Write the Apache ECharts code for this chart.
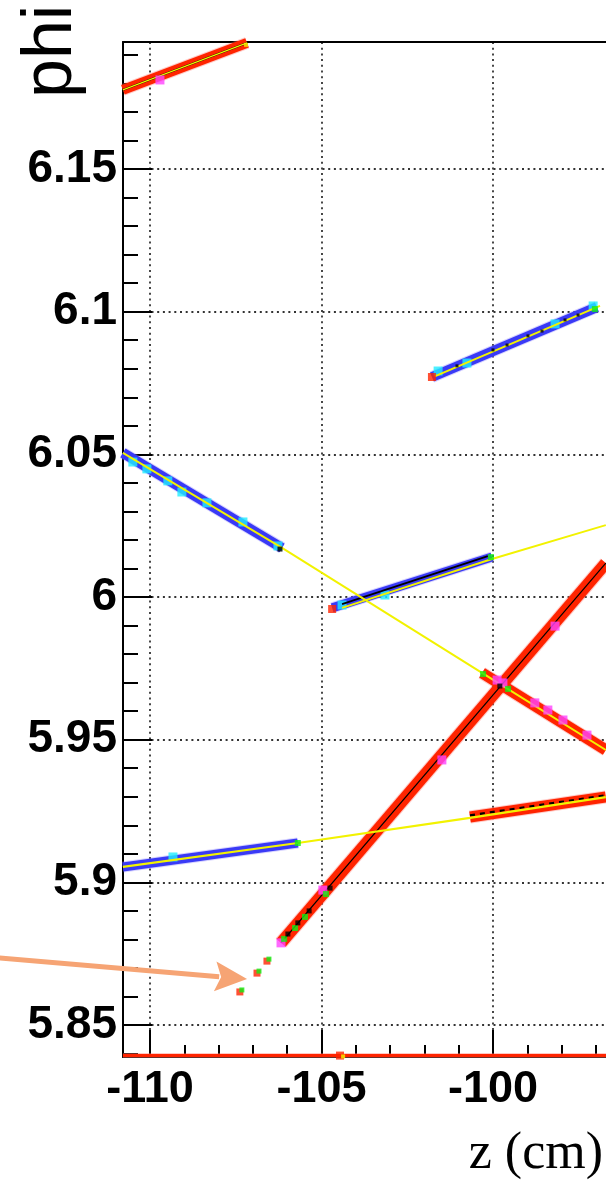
<!DOCTYPE html>
<html>
<head>
<meta charset="utf-8">
<script src="https://cdn.jsdelivr.net/npm/echarts@6/dist/echarts.min.js"></script>
<style>
html,body{margin:0;padding:0;background:#fff;}
#chart{width:606px;height:1181px;}
</style>
</head>
<body>
<div id="chart"></div>
<script>
// ---------- axes ----------
const zRange = [-110.787, -96.122];
const phiRange = [5.8388, 6.1945];
const zTicks = [-110, -105, -100];
const zMinorTicks = [-110, -109, -108, -107, -106, -105, -104, -103, -102, -101, -100, -99, -98, -97];
const phiTicks = [5.85, 5.9, 5.95, 6.0, 6.05, 6.1, 6.15];
const phiMinorTicks = [5.84, 5.85, 5.86, 5.87, 5.88, 5.89, 5.9, 5.91, 5.92, 5.93, 5.94, 5.95, 5.96, 5.97, 5.98, 5.99,
  6.0, 6.01, 6.02, 6.03, 6.04, 6.05, 6.06, 6.07, 6.08, 6.09, 6.1, 6.11, 6.12, 6.13, 6.14, 6.15, 6.16, 6.17, 6.18, 6.19];

// ---------- hit bands (z, phi) ----------
const trackA = [[-110.79, 6.1777], [-107.17, 6.1942]];
const trackB = [[-101.78, 6.0771], [-96.97, 6.1016]];
const trackC = [[-110.79, 6.0505], [-106.15, 6.0172]];
const trackD = [[-104.69, 5.9962], [-100.03, 6.0140]];
const trackE = [[-100.32, 5.9734], [-96.71, 5.9464]];
const trackF = [[-106.18, 5.8788], [-96.71, 6.0119]];
const trackG = [[-110.79, 5.9054], [-105.69, 5.9138]];
const trackH = [[-100.67, 5.9229], [-96.71, 5.9299]];
const trackFloor = [[-110.79, 5.8393], [-96.12, 5.8393]];

// ---------- fitted lines ----------
const fitA = [[-110.79, 6.1777], [-107.17, 6.1942]];
const fitB = [[-101.70, 6.0773], [-96.88, 6.1020]];
const fitCE = [[-110.79, 6.0505], [-106.15, 6.0172], [-100.32, 5.9734], [-96.71, 5.9464]];
const fitD = [[-104.40, 5.9962], [-100.03, 6.0133], [-96.71, 6.0252]];
const blackD = [[-104.40, 5.9975], [-100.15, 6.0143]];
const fitGH = [[-110.79, 5.9054], [-105.69, 5.9138], [-100.67, 5.9226], [-96.71, 5.9299]];
const blackH = [[-100.67, 5.9235], [-96.71, 5.9305]];
const blackF = [[-106.18, 5.8788], [-96.71, 6.0119]];

// ---------- individual hits ----------
const cyanHits = [
  [-101.60, 6.0792], [-100.76, 6.0820], [-98.19, 6.0957], [-97.08, 6.1020],
  [-110.50, 6.0473], [-110.09, 6.0449], [-109.48, 6.0407], [-109.07, 6.0368], [-108.34, 6.0330], [-107.29, 6.0263], [-106.27, 6.0179],
  [-104.40, 5.9972], [-103.15, 6.0007],
  [-109.33, 5.9089]
];
const magentaHits = [
  [-109.71, 6.1812],
  [-99.88, 5.9709], [-98.78, 5.9629], [-98.40, 5.9604], [-97.96, 5.9569], [-97.26, 5.9516],
  [-106.18, 5.8788], [-104.96, 5.8973], [-101.49, 5.9429], [-99.71, 5.9699], [-98.19, 5.9898]
];
const greenHits = [
  [-97.03, 6.1009], [-100.06, 6.0140],
  [-100.29, 5.9730], [-99.56, 5.9678],
  [-106.09, 5.8802], [-105.77, 5.8840], [-105.48, 5.8879], [-104.87, 5.8959],
  [-105.69, 5.9138]
];
const redHits = [[-101.78, 6.0771], [-104.69, 5.9958], [-104.46, 5.8393]];
const yellowHits = [[-107.20, 6.1935], [-104.37, 5.8390]];
const strayHits = [[-107.38, 5.8616], [-106.88, 5.8682], [-106.59, 5.8724]];
const blackHitsBig = [[-105.98, 5.8819], [-105.69, 5.8858], [-105.36, 5.8900], [-104.75, 5.8980], [-106.21, 6.0168], [-99.80, 5.9688]];
const blackHitsSmall = [[-101.05, 6.0810], [-100.00, 6.0866], [-99.59, 6.0883], [-98.98, 6.0915], [-98.57, 6.0932], [-97.90, 6.0971], [-97.52, 6.0988]];

// ---------- annotation arrow (z, phi) ----------
const arrowTail = [-114.37, 5.8735];
const arrowTip = [-107.17, 5.8661];

const RED = '#ff2400', BLUE = '#3a3af6', CYAN = '#22eeff', MAGENTA = '#ff44ff', GREEN = '#11ee11', YELLOW = '#f2f200';

function band(data, color, halo, width) {
  return [
    {type: 'line', data: data, symbol: 'none', silent: true, z: 2,
     lineStyle: {color: halo, width: width + 2, cap: 'butt'}},
    {type: 'line', data: data, symbol: 'none', silent: true, z: 3,
     lineStyle: {color: color, width: width, cap: 'butt'}}
  ];
}
function thin(data, color, width, z, dash) {
  return {type: 'line', data: data, symbol: 'none', silent: true, z: z,
    lineStyle: {color: color, width: width, type: dash || 'solid'}};
}
function hits(data, color, size, z, offset) {
  return {type: 'scatter', data: data, symbol: 'rect', symbolSize: size, silent: true, z: z,
    symbolOffset: offset || [0, 0], itemStyle: {color: color}};
}

const redHalo = 'rgba(255,110,100,0.35)';
const blueHalo = 'rgba(140,130,255,0.35)';

const series = [].concat(
  band(trackFloor, RED, 'rgba(255,120,110,0.4)', 3),
  band(trackA, RED, redHalo, 10),
  band(trackB, BLUE, blueHalo, 10),
  band(trackC, BLUE, blueHalo, 10),
  band(trackD, BLUE, blueHalo, 9),
  band(trackG, BLUE, blueHalo, 9),
  band(trackE, RED, redHalo, 11),
  band(trackH, RED, redHalo, 11),
  band(trackF, RED, redHalo, 12),
  [
    hits(cyanHits, CYAN, 9, 4),
    thin(blackF, '#000', 1.3, 5),
    thin(blackD, '#000', 1.8, 5),
    thin(blackH, '#000', 2.2, 5, [5, 5]),
    thin(fitA, '#000', 2, 5),
    thin(fitA, YELLOW, 1.4, 6),
    thin(fitB, YELLOW, 2, 6),
    thin(fitCE, YELLOW, 2, 6),
    thin(fitD, YELLOW, 2, 6),
    thin(fitGH, YELLOW, 2.2, 6),
    hits(magentaHits, MAGENTA, 9, 7),
    hits(redHits, RED, 8, 7),
    hits(strayHits, RED, 7, 7),
    hits(strayHits, GREEN, 5, 8, [2, -2]),
    hits(greenHits, GREEN, 6, 8),
    hits(yellowHits, YELLOW, 4, 8),
    hits(blackHitsBig, '#000', 5, 9),
    hits(blackHitsSmall, '#000', 3, 9)
  ]
);
series.forEach(s => { s.xAxisIndex = 0; s.yAxisIndex = 0; s.animation = false; s.clip = true; });

const fmt = v => String(+(+v).toFixed(2));
const gridLine = {show: true, lineStyle: {color: '#333', width: 1.8, type: [2, 3.7]}};

const chart = echarts.init(document.getElementById('chart'), null, {renderer: 'canvas'});
chart.setOption({
  animation: false,
  backgroundColor: '#fff',
  grid: {left: 123, top: 42, right: -20, bottom: 124, containLabel: false, outerBoundsMode: 'none', show: false},
  xAxis: [
    {type: 'value', position: 'bottom', min: zRange[0], max: zRange[1],
     axisLine: {show: true, onZero: false, lineStyle: {color: '#000', width: 2}},
     axisTick: {show: true, inside: true, length: 27, customValues: zTicks, lineStyle: {color: '#000', width: 2}},
     axisLabel: {show: true, customValues: zTicks, formatter: fmt, margin: 10, color: '#000',
       fontFamily: 'Liberation Sans, Arial, sans-serif', fontWeight: 'bold', fontSize: 45},
     splitLine: gridLine, minorTick: {show: false}, minorSplitLine: {show: false}},
    {type: 'value', position: 'bottom', min: zRange[0], max: zRange[1],
     axisLine: {show: false, onZero: false},
     axisTick: {show: true, inside: true, length: 12, customValues: zMinorTicks, lineStyle: {color: '#000', width: 2}},
     axisLabel: {show: false}, splitLine: {show: false}},
    {type: 'value', position: 'top', min: zRange[0], max: zRange[1],
     axisLine: {show: true, onZero: false, lineStyle: {color: '#000', width: 2}},
     axisTick: {show: false}, axisLabel: {show: false}, splitLine: {show: false}}
  ],
  yAxis: [
    {type: 'value', position: 'left', min: phiRange[0], max: phiRange[1],
     axisLine: {show: true, onZero: false, lineStyle: {color: '#000', width: 2}},
     axisTick: {show: true, inside: true, length: 29, customValues: phiTicks, lineStyle: {color: '#000', width: 2}},
     axisLabel: {show: true, customValues: phiTicks, formatter: fmt, margin: 6, color: '#000',
       fontFamily: 'Liberation Sans, Arial, sans-serif', fontWeight: 'bold', fontSize: 46},
     splitLine: gridLine},
    {type: 'value', position: 'left', min: phiRange[0], max: phiRange[1],
     axisLine: {show: false, onZero: false},
     axisTick: {show: true, inside: true, length: 15, customValues: phiMinorTicks, lineStyle: {color: '#000', width: 2}},
     axisLabel: {show: false}, splitLine: {show: false}}
  ],
  series: series
});

// titles + arrow annotation
const p0 = chart.convertToPixel({xAxisIndex: 0, yAxisIndex: 0}, arrowTail);
const p1 = chart.convertToPixel({xAxisIndex: 0, yAxisIndex: 0}, arrowTip);
const dx = p1[0] - p0[0], dy = p1[1] - p0[1], L = Math.hypot(dx, dy);
const ux = dx / L, uy = dy / L, nx = -uy, ny = ux;
const headLen = 32, headHalf = 15;
const bx = p1[0] - headLen * ux, by = p1[1] - headLen * uy;
const ARROW = '#f6a474';

chart.setOption({
  graphic: [
    {type: 'text', x: 52, y: 98, rotation: Math.PI / 2, z: 20,
     style: {text: 'phi', font: '70px "Liberation Sans", Arial, sans-serif', fill: '#000', align: 'left', verticalAlign: 'middle'}},
    {type: 'text', x: 603, y: 1154, z: 20,
     style: {text: 'z (cm)', font: '52px "Liberation Serif", "Times New Roman", serif', fill: '#000', align: 'right', verticalAlign: 'middle'}},
    {type: 'line', z: 20, shape: {x1: p0[0] - 5, y1: p0[1] - 5 * uy, x2: bx + 4 * ux, y2: by + 4 * uy},
     style: {stroke: ARROW, lineWidth: 5}},
    {type: 'polygon', z: 20,
     shape: {points: [[p1[0], p1[1]], [bx + headHalf * nx, by + headHalf * ny], [bx + 6 * ux, by + 6 * uy], [bx - headHalf * nx, by - headHalf * ny]]},
     style: {fill: ARROW}}
  ]
});
</script>
</body>
</html>
